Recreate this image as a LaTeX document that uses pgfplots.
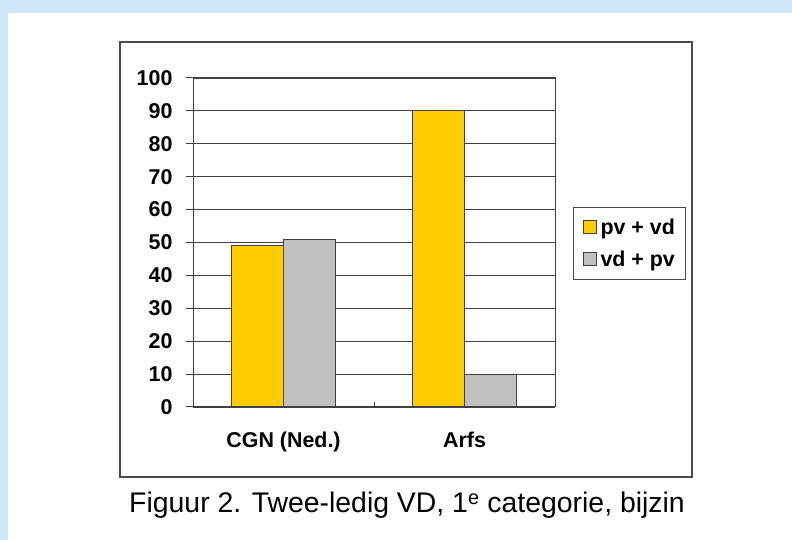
\documentclass[border=0pt]{standalone}
\usepackage{pgfplots}
\pgfplotsset{compat=1.18}
\usepackage{fontspec}
\setmainfont{Liberation Sans}
\definecolor{bgblue}{RGB}{206,231,251}
\definecolor{baryellow}{RGB}{255,204,0}
\definecolor{bargray}{RGB}{192,192,192}
\definecolor{edge}{RGB}{64,64,64}
\begin{document}
\begin{tikzpicture}[x=1bp,y=1bp]
\useasboundingbox (0,0) rectangle (792,540);
\fill[bgblue] (0,0) rectangle (792,540);
\fill[white] (8,0) rectangle (792,527);
\draw[black!70, line width=1.5bp] (120,63) rectangle (692,498);
\begin{axis}[
  at={(193bp,133bp)}, anchor=south west,
  scale only axis, width=362bp, height=329bp,
  xmin=0, xmax=2, ymin=0, ymax=100,
  ybar=0pt, bar width=52bp,
  xtick={0.5,1.5}, xticklabels={CGN (Ned.), Arfs},
  ytick={0,10,...,100},
  xtick pos=bottom, ytick pos=left,
  major x tick style={draw=none},
  ymajorgrids, grid style={draw=black!75, line width=1.1bp},
  tick align=outside, major tick length=7bp,
  axis line style={draw=black!75, line width=1bp},
  tick style={draw=black!75, line width=1bp},
  /pgf/number format/assume math mode=true,
  tick label style={font=\fontsize{21.5}{24}\selectfont\bfseries},
  xticklabel style={yshift=-14bp},
  yticklabel style={xshift=-10bp},
  legend style={at={(1,0.608)}, anchor=north west, xshift=18bp,
    draw=black!70, line width=1bp, font=\fontsize{21.5}{24}\selectfont\bfseries,
    inner xsep=9bp, inner ysep=7bp, row sep=6bp,
    nodes={text height=18bp, text depth=4bp}},
  legend cell align=left,
]
\addplot[fill=baryellow, draw=edge, line width=1bp,
  legend image code/.code={\draw[fill=baryellow, draw=edge, line width=1bp] (0bp,-6.5bp) rectangle (13bp,6.5bp); \path (15bp,0);}]
  coordinates {(0.5,49) (1.5,90)};
\addplot[fill=bargray, draw=edge, line width=1bp,
  legend image code/.code={\draw[fill=bargray, draw=edge, line width=1bp] (0bp,-6.5bp) rectangle (13bp,6.5bp); \path (15bp,0);}]
  coordinates {(0.5,51) (1.5,10)};
\legend{pv + vd, vd + pv}
\draw[black!75, line width=1bp] (axis cs:1,0) -- ++(0,5bp);
\end{axis}
\node[font=\fontsize{28.5}{32}\selectfont, anchor=base] at (407,27) {Figuur 2. Twee-ledig VD, 1\textsuperscript{e} categorie, bijzin};
\end{tikzpicture}
\end{document}
